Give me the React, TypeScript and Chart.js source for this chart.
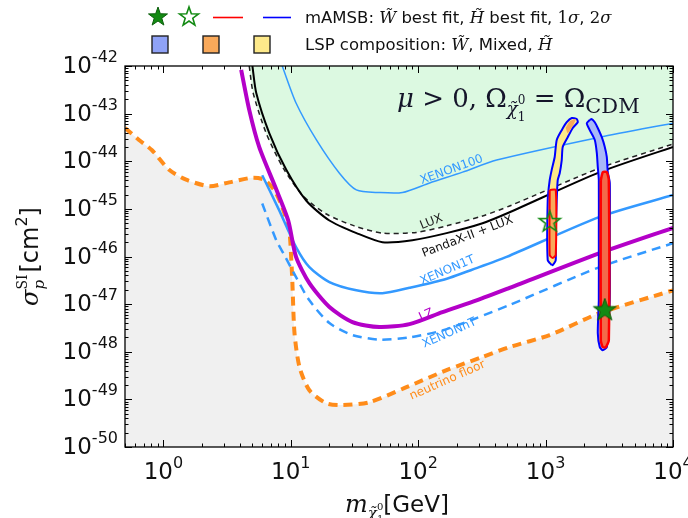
import React, { useEffect, useRef } from 'react';
import { Chart, registerables } from 'chart.js';

Chart.register(...registerables);

// ---------------- data (mass in GeV, cross-section in cm^2) ----------------
const floorMass = [0.5, 0.644, 0.815, 1.11, 1.51, 2.29, 3.29, 4.98, 6.19, 7.42, 8.57, 9.72, 10.1, 10.3, 10.7, 11.7, 14.0, 19.0, 25.4, 41.4, 80.9, 167, 320, 522, 1077, 2663, 10000];
const floorSigma = [5.0e-44, 2.8e-44, 1.7e-44, 6.6e-45, 4.1e-45, 3.0e-45, 3.6e-45, 4.5e-45, 4.1e-45, 2.5e-45, 1.1e-45, 3.5e-46, 8.3e-47, 2.75e-47, 2.45e-48, 4.8e-49, 1.55e-49, 8.3e-50, 7.6e-50, 8.7e-50, 1.8e-49, 4.1e-49, 7.8e-49, 1.26e-48, 2.24e-48, 6.5e-48, 1.95e-47];

const luxMass = [4.72, 5.07, 6.41, 8.73, 12.5, 19.0, 31.5, 52.4, 96.8, 167, 320, 522, 2663, 10000];
const luxSigma = [1e-42, 2.7e-43, 3.9e-44, 7.2e-45, 1.86e-45, 7.8e-46, 4.4e-46, 3.1e-46, 3.2e-46, 4.4e-46, 7.1e-46, 1.15e-45, 7.2e-45, 2.3e-44];

const pandaxMass = [5.0, 5.36, 6.78, 9.22, 13.2, 20.1, 32.8, 52.4, 90, 167, 320, 522, 2663, 10000];
const pandaxSigma = [1e-42, 2.7e-43, 3.9e-44, 6.6e-45, 1.5e-45, 5.7e-46, 3.1e-46, 2.0e-46, 2.2e-46, 3.1e-46, 5.0e-46, 8.5e-46, 5.9e-45, 2.0e-44];

const xenon100Mass = [8.57, 11.0, 15.9, 24.1, 32.7, 49.6, 75.3, 123, 223, 413, 2663, 10000];
const xenon100Sigma = [1e-42, 1.67e-43, 2.8e-44, 5.6e-45, 2.5e-45, 2.2e-45, 2.2e-45, 3.5e-45, 5.9e-45, 1.06e-44, 3.2e-44, 6.3e-44];

const xenon1tMass = [5.97, 8.12, 11.0, 14.0, 20.1, 32.7, 52.4, 85.5, 155, 287, 494, 2663, 10000];
const xenon1tSigma = [5.1e-45, 9.3e-46, 1.58e-46, 6.0e-47, 2.9e-47, 1.95e-47, 1.7e-47, 2.2e-47, 3.2e-47, 5.7e-47, 9.8e-47, 6.8e-46, 1.95e-45];

const lzMass = [4.08, 4.72, 5.65, 7.55, 9.55, 11.0, 14.0, 20.1, 30.5, 49.6, 85.5, 155, 287, 522, 2663, 10000];
const lzSigma = [8.3e-43, 1.2e-43, 2.0e-44, 2.9e-45, 5.7e-46, 9.8e-47, 2.75e-47, 8.7e-48, 4.2e-48, 3.3e-48, 3.8e-48, 6.8e-48, 1.2e-47, 2.2e-47, 1.18e-46, 4.0e-46];

const xenonntMass = [5.97, 7.69, 8.9, 11.0, 14.0, 20.1, 30.5, 49.6, 85.5, 155, 287, 522, 2663, 10000];
const xenonntSigma = [1.3e-45, 2.2e-46, 1.07e-46, 3.7e-47, 1.2e-47, 4.0e-48, 2.24e-48, 1.8e-48, 2.0e-48, 2.8e-48, 5.1e-48, 9.6e-48, 6.0e-47, 1.9e-46];

// mAMSB likelihood regions
const leftOuterMass = [1117, 1039, 1039, 1077, 1117, 1179, 1223, 1339, 1466, 1605, 1756, 1789, 1634, 1492, 1363, 1339, 1291, 1245, 1223, 1201, 1201, 1137, 1117];
const leftOuterSigma = [6.6e-47, 8.4e-47, 1.5e-45, 4.0e-45, 6.6e-45, 1.23e-44, 2.8e-44, 4.5e-44, 6.6e-44, 8.1e-44, 7.7e-44, 6.6e-44, 5.0e-44, 3.2e-44, 2.0e-44, 1.06e-44, 5.6e-45, 4.0e-45, 1.5e-45, 3.1e-46, 8.4e-47, 6.6e-47, 6.6e-47];
const leftMixedMass = [1439, 1547, 1725, 1663, 1492, 1439];
const leftMixedSigma = [5.0e-44, 6.9e-44, 7.7e-44, 6.0e-44, 3.9e-44, 5.0e-44];
const leftInnerMass = [1077, 1201, 1201, 1137, 1077, 1077];
const leftInnerSigma = [2.5e-45, 2.5e-45, 1.07e-46, 9.3e-47, 1.07e-46, 2.5e-45];

const rightOuterMass = [2222, 2105, 2222, 2433, 2523, 2568, 2616, 2616, 2616, 2568, 2663, 2812, 3022, 3078, 3192, 3192, 3192, 3078, 3022, 2915, 2761, 2568, 2433, 2304, 2222];
const rightOuterSigma = [7.4e-44, 6.3e-44, 4.5e-44, 2.8e-44, 1.5e-44, 7.6e-45, 4.0e-45, 3.1e-46, 1.2e-47, 2.46e-48, 1.25e-48, 1.08e-48, 1.25e-48, 2.46e-48, 1.2e-47, 3.1e-46, 3.5e-45, 5.9e-45, 1.23e-44, 2.0e-44, 3.2e-44, 5.0e-44, 6.6e-44, 7.7e-44, 7.4e-44];
const rightInnerMass = [2712, 2812, 3022, 3135, 3135, 2969, 2812, 2712, 2712];
const rightInnerSigma = [4.0e-45, 5.9e-45, 5.9e-45, 4.0e-45, 1.75e-48, 1.25e-48, 1.25e-48, 1.75e-48, 4.0e-45];

const winoBestFit = { mass: 2915, sigma: 7.4e-48 };
const higgsinoBestFit = { mass: 1077, sigma: 5.3e-46 };

const xTickExponents = [0, 1, 2, 3, 4];
const yTickExponents = [-50, -49, -48, -47, -46, -45, -44, -43, -42];

// ---------------- styles ----------------
const DODGER = '#3399ff';
const MAGENTA = '#b400c8';
const ORANGE = '#ff8c1a';
const GREEN = '#138a13';
const SANS = '"DejaVu Sans"';
const SERIF = '"DejaVu Serif"';

const curveLabels = [
  { text: 'XENON100', x: 183, y: 6.6e-45, angle: -20, color: DODGER },
  { text: 'LUX', x: 127, y: 5.3e-46, angle: -22, color: '#222' },
  { text: 'PandaX-II + LUX', x: 244, y: 2.6e-46, angle: -21, color: '#111' },
  { text: 'XENON1T', x: 170, y: 5.1e-47, angle: -23, color: DODGER },
  { text: 'LZ', x: 116, y: 5.9e-48, angle: -25, color: MAGENTA },
  { text: 'XENONnT', x: 176, y: 2.46e-48, angle: -24, color: DODGER },
  { text: 'neutrino floor', x: 170, y: 2.5e-49, angle: -24, color: ORANGE },
];

type Seg = { t: string; f: string; dy?: number; stack?: boolean };

function layoutSegs(ctx: CanvasRenderingContext2D, segs: Seg[]) {
  const items: { s: Seg; x: number }[] = [];
  let cursor = 0, lastStart = 0, lastW = 0;
  for (const s of segs) {
    ctx.font = s.f;
    const w = ctx.measureText(s.t).width;
    if (s.stack) {
      items.push({ s, x: lastStart });
      lastW = Math.max(lastW, w);
      cursor = lastStart + lastW;
    } else {
      items.push({ s, x: cursor });
      lastStart = cursor;
      lastW = w;
      cursor += w;
    }
  }
  return { items, width: cursor };
}

function drawSegs(ctx: CanvasRenderingContext2D, segs: Seg[], x: number, y: number, align: string, color: string) {
  const { items, width } = layoutSegs(ctx, segs);
  const x0 = align === 'left' ? x : align === 'right' ? x - width : x - width / 2;
  ctx.fillStyle = color;
  ctx.textAlign = 'left';
  ctx.textBaseline = 'alphabetic';
  for (const it of items) {
    ctx.font = it.s.f;
    ctx.fillText(it.s.t, x0 + it.x, y + (it.s.dy || 0));
  }
}

function starPath(ctx: CanvasRenderingContext2D, cx: number, cy: number, R: number) {
  const r = R * 0.4;
  ctx.beginPath();
  for (let i = 0; i < 10; i++) {
    const a = -Math.PI / 2 + (i * Math.PI) / 5;
    const rad = i % 2 === 0 ? R : r;
    const px = cx + rad * Math.cos(a);
    const py = cy + rad * Math.sin(a);
    if (i === 0) ctx.moveTo(px, py);
    else ctx.lineTo(px, py);
  }
  ctx.closePath();
}

function drawStar(ctx: CanvasRenderingContext2D, cx: number, cy: number, R: number, filled: boolean) {
  starPath(ctx, cx, cy, R);
  if (filled) {
    ctx.fillStyle = GREEN;
    ctx.fill();
    ctx.strokeStyle = '#0b5e0b';
    ctx.lineWidth = 1;
    ctx.stroke();
  } else {
    ctx.strokeStyle = GREEN;
    ctx.lineWidth = 1.6;
    ctx.stroke();
  }
}

function makeStarImage(R: number, filled: boolean) {
  const c = document.createElement('canvas');
  const s = Math.ceil(R * 2 + 4);
  c.width = s;
  c.height = s;
  const cx = c.getContext('2d')!;
  drawStar(cx, s / 2, s / 2, R, filled);
  return c;
}

const pts = (xs: number[], ys: number[]) => xs.map((x, i) => ({ x, y: ys[i] }));

const decor = {
  id: 'decor',
  afterDatasetsDraw(chart: any) {
    const { ctx, chartArea: a, scales } = chart;
    const xs = scales.x, ys = scales.y;
    ctx.save();
    // curve labels
    for (const L of curveLabels) {
      const px = xs.getPixelForValue(L.x);
      const py = ys.getPixelForValue(L.y);
      ctx.save();
      ctx.translate(px, py);
      ctx.rotate((L.angle * Math.PI) / 180);
      ctx.font = `12px ${SANS}`;
      ctx.fillStyle = L.color;
      ctx.textAlign = 'center';
      ctx.textBaseline = 'middle';
      ctx.fillText(L.text, 0, 0);
      ctx.restore();
    }
    // frame
    ctx.strokeStyle = '#000';
    ctx.lineWidth = 1.3;
    ctx.strokeRect(a.left, a.top, a.right - a.left, a.bottom - a.top);
    // ticks
    ctx.lineWidth = 1;
    const tickY = (v: number, len: number) => {
      const py = Math.round(ys.getPixelForValue(v)) + 0.5;
      ctx.beginPath();
      ctx.moveTo(a.left, py); ctx.lineTo(a.left + len, py);
      ctx.moveTo(a.right, py); ctx.lineTo(a.right - len, py);
      ctx.stroke();
    };
    const tickX = (v: number, len: number) => {
      const px = Math.round(xs.getPixelForValue(v)) + 0.5;
      ctx.beginPath();
      ctx.moveTo(px, a.bottom); ctx.lineTo(px, a.bottom - len);
      ctx.moveTo(px, a.top); ctx.lineTo(px, a.top + len);
      ctx.stroke();
    };
    for (const e of yTickExponents) {
      tickY(Math.pow(10, e), 7);
      if (e < yTickExponents[yTickExponents.length - 1]) {
        for (let m = 2; m <= 9; m++) tickY(m * Math.pow(10, e), 3.5);
      }
    }
    for (const e of xTickExponents) tickX(Math.pow(10, e), 7);
    for (let e = -1; e < 4; e++) {
      for (let m = 2; m <= 9; m++) {
        const v = m * Math.pow(10, e);
        if (v >= 0.5 && v <= 1e4) tickX(v, 3.5);
      }
    }
    ctx.restore();
  },
  afterDraw(chart: any) {
    const { ctx, chartArea: a, scales } = chart;
    const xs = scales.x, ys = scales.y;
    ctx.save();
    // y tick labels
    for (const e of yTickExponents) {
      const py = ys.getPixelForValue(Math.pow(10, e));
      drawSegs(ctx, [
        { t: '10', f: `23px ${SANS}` },
        { t: '-' + Math.abs(e), f: `16px ${SANS}`, dy: -11 },
      ], 118, py + 7, 'right', '#111');
    }
    // x tick labels
    for (const e of xTickExponents) {
      const px = xs.getPixelForValue(Math.pow(10, e));
      drawSegs(ctx, [
        { t: '10', f: `23px ${SANS}` },
        { t: String(e), f: `16px ${SANS}`, dy: -11 },
      ], px, a.bottom + 32, 'center', '#111');
    }
    // x title
    drawSegs(ctx, [
      { t: 'm', f: `italic 24px ${SERIF}` },
      { t: 'χ̃', f: `italic 15px ${SERIF}`, dy: 6 },
      { t: '1', f: `10px ${SERIF}`, dy: 10 },
      { t: '0', f: `10px ${SERIF}`, dy: -2, stack: true },
      { t: '[GeV]', f: `23px ${SANS}` },
    ], 397, 512, 'center', '#111');
    // y title
    ctx.save();
    ctx.translate(38, (a.top + a.bottom) / 2);
    ctx.rotate(-Math.PI / 2);
    drawSegs(ctx, [
      { t: 'σ', f: `italic 24px ${SERIF}` },
      { t: 'p', f: `italic 15px ${SERIF}`, dy: 6 },
      { t: 'SI', f: `14px ${SERIF}`, dy: -11, stack: true },
      { t: ' ', f: `6px ${SANS}` },
      { t: '[cm', f: `24px ${SANS}` },
      { t: '2', f: `16px ${SANS}`, dy: -11 },
      { t: ']', f: `24px ${SANS}` },
    ], 0, 0, 'center', '#111');
    ctx.restore();
    // title inside plot
    drawSegs(ctx, [
      { t: 'μ', f: `italic 26px ${SERIF}` },
      { t: ' > 0, Ω', f: `26px ${SERIF}` },
      { t: 'χ̃', f: `italic 18px ${SERIF}`, dy: 8 },
      { t: '1', f: `12px ${SERIF}`, dy: 14 },
      { t: '0', f: `12px ${SERIF}`, dy: -3, stack: true },
      { t: ' = Ω', f: `26px ${SERIF}` },
      { t: 'CDM', f: `21px ${SERIF}`, dy: 6 },
    ], 397, 107, 'left', '#15152a');
    // legend
    drawStar(ctx, 158, 17, 10, true);
    drawStar(ctx, 189, 17, 10, false);
    ctx.lineWidth = 1.6;
    ctx.strokeStyle = '#ff0000';
    ctx.beginPath(); ctx.moveTo(213, 17.5); ctx.lineTo(243, 17.5); ctx.stroke();
    ctx.strokeStyle = '#0000ff';
    ctx.beginPath(); ctx.moveTo(263, 17.5); ctx.lineTo(291, 17.5); ctx.stroke();
    const sq = [['#8fa2f7', 160], ['#f9a95a', 211], ['#fde98a', 262]] as [string, number][];
    for (const [c, cx] of sq) {
      ctx.fillStyle = c;
      ctx.fillRect(cx - 8, 36, 16, 17);
      ctx.strokeStyle = '#222';
      ctx.lineWidth = 1.4;
      ctx.strokeRect(cx - 8, 36, 16, 17);
    }
    const LF = `16.5px ${SANS}`;
    const LM = `italic 16.5px ${SERIF}`;
    const LU = `16.5px ${SERIF}`;
    drawSegs(ctx, [
      { t: 'mAMSB: ', f: LF },
      { t: 'W̃', f: LM },
      { t: ' best fit, ', f: LF },
      { t: 'H̃', f: LM },
      { t: ' best fit, ', f: LF },
      { t: '1', f: LU },
      { t: 'σ', f: LM },
      { t: ', ', f: LF },
      { t: '2', f: LU },
      { t: 'σ', f: LM },
    ], 305, 23, 'left', '#111');
    drawSegs(ctx, [
      { t: 'LSP composition: ', f: LF },
      { t: 'W̃', f: LM },
      { t: ', Mixed, ', f: LF },
      { t: 'H̃', f: LM },
    ], 305, 50, 'left', '#111');
    ctx.restore();
  },
};

export default function App() {
  const ref = useRef<HTMLCanvasElement>(null);
  useEffect(() => {
    const canvas = ref.current!;
    const starFilled = makeStarImage(12, true);
    const starHollow = makeStarImage(11, false);
    const curve = (xsA: number[], ysA: number[], extra: any) => ({
      data: pts(xsA, ysA),
      pointRadius: 0,
      tension: 0.25,
      fill: false,
      ...extra,
    });
    const chart = new Chart(canvas, {
      type: 'line',
      data: {
        datasets: [
          curve(floorMass, floorSigma, { borderColor: ORANGE, borderWidth: 4, borderDash: [9, 6], backgroundColor: '#f0f0f0', fill: 'start', order: 20 }),
          curve(luxMass, luxSigma, { borderColor: '#222', borderWidth: 1.5, borderDash: [5, 4], backgroundColor: '#dcf9e1', fill: 'end', order: 19 }),
          curve(pandaxMass, pandaxSigma, { borderColor: '#000', borderWidth: 2, order: 18 }),
          curve(xenon100Mass, xenon100Sigma, { borderColor: DODGER, borderWidth: 1.5, order: 17 }),
          curve(xenon1tMass, xenon1tSigma, { borderColor: DODGER, borderWidth: 2.5, order: 16 }),
          curve(xenonntMass, xenonntSigma, { borderColor: DODGER, borderWidth: 2.5, borderDash: [9, 6], order: 15 }),
          curve(lzMass, lzSigma, { borderColor: MAGENTA, borderWidth: 4, order: 14 }),
          curve(leftOuterMass, leftOuterSigma, { borderColor: '#0000ff', borderWidth: 2, backgroundColor: '#fde98a', fill: 'shape', tension: 0.2, order: 8 }),
          curve(leftMixedMass, leftMixedSigma, { borderColor: 'rgba(0,0,0,0)', borderWidth: 0, backgroundColor: '#f9a95a', fill: 'shape', tension: 0.2, order: 7 }),
          curve(leftInnerMass, leftInnerSigma, { borderColor: '#ff0000', borderWidth: 2, backgroundColor: '#f9a95a', fill: 'shape', tension: 0.2, order: 6 }),
          curve(rightOuterMass, rightOuterSigma, { borderColor: '#0000ff', borderWidth: 2, backgroundColor: '#a9b8f8', fill: 'shape', tension: 0.2, order: 5 }),
          curve(rightInnerMass, rightInnerSigma, { borderColor: '#ff0000', borderWidth: 2.5, backgroundColor: '#f36a4a', fill: 'shape', tension: 0.2, order: 4 }),
          { data: [{ x: higgsinoBestFit.mass, y: higgsinoBestFit.sigma }], showLine: false, pointStyle: starHollow, pointRadius: 11, order: 1 },
          { data: [{ x: winoBestFit.mass, y: winoBestFit.sigma }], showLine: false, pointStyle: starFilled, pointRadius: 12, order: 0 },
        ] as any,
      },
      options: {
        animation: false,
        responsive: false,
        devicePixelRatio: 1,
        events: [],
        layout: { padding: { left: 125, right: 15, top: 66, bottom: 71 } },
        plugins: { legend: { display: false }, tooltip: { enabled: false } },
        scales: {
          x: { type: 'logarithmic', min: 0.5, max: 1e4, display: false },
          y: { type: 'logarithmic', min: 1e-50, max: 1e-42, display: false },
        },
      } as any,
      plugins: [decor],
    });
    return () => chart.destroy();
  }, []);
  return (
    <div style={{ position: 'absolute', left: 0, top: 0, width: 688, height: 518, background: '#fff' }}>
      <canvas ref={ref} width={688} height={518} style={{ display: 'block', width: 688, height: 518 }} />
    </div>
  );
}
